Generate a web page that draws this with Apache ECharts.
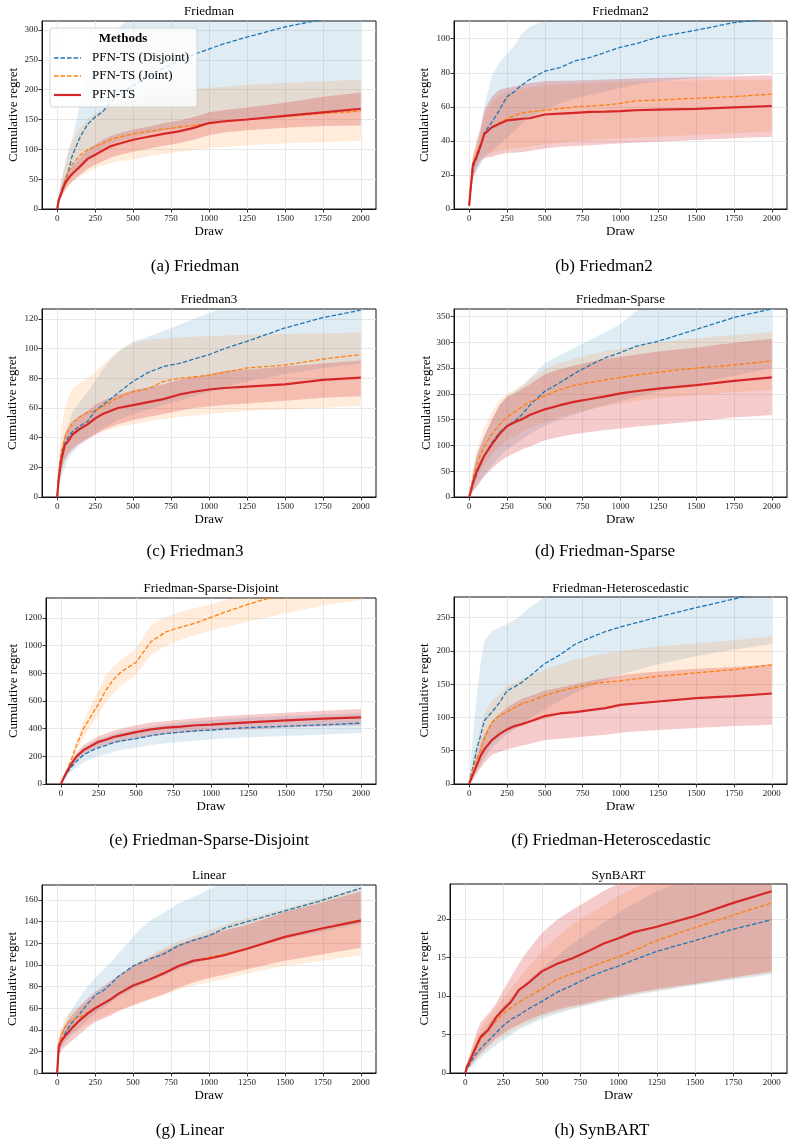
<!DOCTYPE html>
<html><head><meta charset="utf-8">
<script src="https://cdn.jsdelivr.net/npm/echarts@6/dist/echarts.min.js"></script>
<style>html,body{margin:0;padding:0;background:#fff}#c{width:794px;height:1146px}</style>
</head><body><div id="c"></div>
<script>
// ---------------- DATA ----------------
const draws = [0,10,25,50,75,100,150,200,250,300,350,400,500,600,700,800,900,1000,1100,1250,1500,1750,2000];
const xTicks = [0,250,500,750,1000,1250,1500,1750,2000];
const methods = ['PFN-TS (Disjoint)','PFN-TS (Joint)','PFN-TS'];
const panelTitles = ['Friedman','Friedman2','Friedman3','Friedman-Sparse','Friedman-Sparse-Disjoint','Friedman-Heteroscedastic','Linear','SynBART'];
const captions = ['(a) Friedman','(b) Friedman2','(c) Friedman3','(d) Friedman-Sparse','(e) Friedman-Sparse-Disjoint','(f) Friedman-Heteroscedastic','(g) Linear','(h) SynBART'];
const yTicks_a = [0,50,100,150,200,250,300];
const yTicks_b = [0,20,40,60,80,100];
const yTicks_c = [0,20,40,60,80,100,120];
const yTicks_d = [0,50,100,150,200,250,300,350];
const yTicks_e = [0,200,400,600,800,1000,1200];
const yTicks_f = [0,50,100,150,200,250];
const yTicks_g = [0,20,40,60,80,100,120,140,160];
const yTicks_h = [0,5,10,15,20];

// (a) Friedman
const a_dis    = [0,12,30,45,65,90,120,142,154,163,178,190,207,222,236,248,259,268,277,288,305,318,330];
const a_dis_lo = [0,10,20,35,48,58,72,85,95,102,108,113,120,126,131,135,139,143,146,150,155,160,165];
const a_dis_hi = [0,25,45,75,100,118,175,215,245,272,290,303,325,345,360,372,383,393,402,415,435,452,468];
const a_joint    = [0,15,28,45,62,75,90,99,105,110,116,120,126,130,134,137,140,143,146,150,155,160,164];
const a_joint_lo = [0,10,18,28,38,45,55,62,68,73,77,80,83,88,92,96,99,102,104,107,110,112,114];
const a_joint_hi = [0,22,45,70,95,115,135,150,160,167,173,178,185,190,194,197,200,203,205,208,211,214,217];
const a_pfn    = [0,15,25,42,52,59,71,84,91,98,105,109,116,121,126,130,136,144,147,150,156,162,168];
const a_pfn_lo = [0,10,18,32,40,47,57,68,74,80,86,90,96,101,106,110,116,124,128,132,136,139,140];
const a_pfn_hi = [0,20,34,54,64,72,86,100,108,116,122,126,133,138,144,148,154,162,166,170,178,188,195];

// (b) Friedman2
const b_dis    = [2,12,24,30,36,45,51,58,66,69,73,76,81,83,87,89,92,95,97,101,105,109.5,112];
const b_dis_lo = [1,8,18,22,26,30,34,38,42,46,50,54,58,62,65,67,69,71,73,75,77,78.5,80];
const b_dis_hi = [3,15,26,35,46,60,78,86,91,96,103,107,111,113,115,117,119,121,123,125,127,129,130];
const b_joint    = [2,12,27,33,38,44,48,50.5,53,55,56.5,57,58,59,60,60.5,61,62,63.5,64,65,66,67.5];
const b_joint_lo = [1,9,20,26,30,32,33,34,35,35.5,36,36.5,38,39,40,40.5,41,41.5,42,42.5,43.5,44.5,45.5];
const b_joint_hi = [3,15,30,38,45,55,63,67,68.5,69.5,70.5,71.5,72.5,73,73.5,74,74.3,74.6,74.9,75.2,75.5,75.8,76];
const b_pfn    = [2,12,26,31,37,44,48,50,52,52.5,53,53.3,55.5,56,56.5,57,57.2,57.5,58,58.3,58.8,59.7,60.5];
const b_pfn_lo = [0,8,18,24,28,30,30.5,32,33,33,33.5,34,35.5,36.5,37,37.5,38,38.5,39,39.5,40.5,41.5,42.5];
const b_pfn_hi = [4,16,32,40,48,58,66,70,71,72,73,74,75,75.3,75.5,75.8,76,76.3,76.6,77,77.5,78,78.5];

// (c) Friedman3
const c_dis    = [0,14,28,36,41,44,48,51,58,62,66,70,78,84,88,90,93,96,100,105,114,121,126];
const c_dis_lo = [0,5,12,20,26,30,35,39,43,46,49,52,56,59,62,65,68,71,74,78,83,87,90];
const c_dis_hi = [0,18,30,42,50,57,64,71,78,86,92,98,105,108,112,116,120,124,128,132,138,142,146];
const c_joint    = [0,15,30,40,45,50,54,57,58,61,64,67,71,73,78,80,81,82,84,87,89,93,96];
const c_joint_lo = [0,8,18,26,30,33,37,40,42,44,45.5,47,49,51,52.5,54,55,56,57,58,59,60,61.5];
const c_joint_hi = [0,22,45,60,68,73,77,80,84,89,94,98,104,106,107,107.5,108,108.5,109,109.5,110,110.5,111];
const c_pfn    = [0,12,24,35,38,42,46,49,53,56,58,60,62,64,66,69,71,72.5,73.5,74.5,76,79,80.5];
const c_pfn_lo = [0,8,17,25,29,32,36,39,42,45,47,49,52,54,56,58,60,61,62,63,65,67,68];
const c_pfn_hi = [0,16,30,43,47,51,55,58,62,65,67,69,72,74,76,79,81,83,85,86,88,90,92];

// (d) Friedman-Sparse
const d_dis    = [0,10,25,45,63,80,105,125,138,147,160,178,205,222,240,256,270,280,292,302,325,348,365];
const d_dis_lo = [0,5,12,22,32,42,60,78,92,102,112,122,138,150,160,170,178,186,194,204,220,235,250];
const d_dis_hi = [0,15,45,80,100,118,150,178,195,205,215,230,260,275,290,305,320,335,360,380,400,420,440];
const d_joint    = [0,14,35,62,82,98,122,140,155,165,175,184,196,208,217,222,227,232,236,242,250,256,264];
const d_joint_lo = [0,6,18,35,50,62,82,98,110,118,126,133,145,155,163,170,176,181,186,192,198,203,208];
const d_joint_hi = [0,22,55,90,115,135,165,188,200,208,217,228,248,260,268,276,283,288,293,300,308,314,320];
const d_pfn    = [0,10,27,50,65,80,102,122,137,145,151,159,170,178,185,190,195,201,205,210,217,225,232];
const d_pfn_lo = [0,4,10,20,30,40,55,68,78,85,92,98,110,117,122,126,130,133,136,140,147,154,159];
const d_pfn_hi = [0,16,45,80,100,118,150,178,195,200,210,218,238,248,255,262,268,272,276,282,290,299,307];

// (e) Friedman-Sparse-Disjoint
const e_dis    = [0,22,52,95,130,160,210,240,262,280,300,312,328,350,365,375,385,390,398,408,418,428,440];
const e_dis_lo = [0,15,38,70,95,118,155,180,200,215,232,245,262,282,295,305,315,322,330,338,348,358,368];
const e_dis_hi = [0,28,65,118,162,200,262,298,322,342,362,378,395,415,432,443,454,462,470,480,492,503,512];
const e_joint    = [0,25,65,125,195,270,400,490,580,680,755,810,880,1030,1100,1135,1165,1205,1245,1300,1380,1450,1510];
const e_joint_lo = [0,20,55,110,170,235,340,420,500,590,660,710,790,935,1000,1045,1080,1110,1135,1175,1235,1290,1330];
const e_joint_hi = [0,30,75,140,220,305,460,570,680,790,850,900,980,1150,1210,1245,1275,1300,1330,1370,1450,1520,1580];
const e_pfn    = [0,25,60,110,155,195,245,275,305,320,340,352,375,395,408,415,425,430,436,446,460,473,482];
const e_pfn_lo = [0,20,48,90,130,165,210,240,265,280,295,305,325,345,360,368,378,385,390,395,408,418,425];
const e_pfn_hi = [0,30,72,130,180,225,280,315,345,365,385,400,425,445,455,465,475,485,492,500,515,530,542];

// (f) Friedman-Heteroscedastic
const f_dis    = [0,12,25,52,72,95,108,122,140,146,153,162,181,194,210,220,229,236,242,251,265,278,292];
const f_dis_lo = [0,4,10,18,28,38,55,65,75,82,90,98,112,125,137,147,156,164,171,180,192,202,210];
const f_dis_hi = [0,35,70,130,180,215,230,235,240,246,255,265,282,295,305,315,325,335,343,355,370,385,400];
const f_joint    = [0,10,22,37,50,68,92,103,108,115,121,124,133,140,145,150,153,155,158,162,167,172,179];
const f_joint_lo = [0,5,12,22,32,45,62,72,78,83,88,92,98,104,108,112,115,118,121,125,130,134,138];
const f_joint_hi = [0,15,35,60,85,105,125,135,146,152,158,162,172,180,187,192,196,199,203,207,211,216,222];
const f_pfn    = [0,6,14,28,42,52,66,75,82,87,90,94,102,106,108,111,114,119,121,124,129,132,136];
const f_pfn_lo = [0,2,6,15,24,32,44,48,52,55,58,60,66,68,70,72,74,77,79,81,84,87,89];
const f_pfn_hi = [0,10,22,42,60,75,95,105,115,122,128,132,140,145,150,155,159,163,166,169,173,176,180];

// (g) Linear
const g_dis    = [0,22,29,36,42,47,55,64,72,76,82,89,99,105,110,118,123,127,134,140,150,160,171];
const g_dis_lo = [0,16,22,28,32,36,42,49,55,60,65,70,78,84,90,96,101,105,110,116,124,131,138];
const g_dis_hi = [0,28,36,46,54,60,70,80,88,95,102,110,126,140,148,157,163,170,176,183,195,205,215];
const g_joint    = [0,28,33,42,47,49,52,56,60,64,68,73,81,86,93,99,104,107,110,115,126,134,142];
const g_joint_lo = [0,18,24,30,34,37,41,45,49,52,55,58,62,67,72,77,81,84,87,92,99,104,109];
const g_joint_hi = [0,34,42,50,55,58,62,66,70,76,82,88,100,108,116,122,127,132,137,143,152,162,172];
const g_pfn    = [0,24,29,34,38,42,49,55,60,64,68,73,81,86,92,99,104,106,109,115,126,134,141];
const g_pfn_lo = [0,16,20,24,27,30,36,42,47,50,53,57,63,68,73,79,84,88,91,96,104,110,116];
const g_pfn_hi = [0,30,38,44,49,54,62,69,75,80,85,90,99,106,113,119,124,128,132,137,149,158,168];

// (h) SynBART
const h_dis    = [0,0.5,1.0,1.9,2.6,3.2,4.2,5.2,6.2,7.0,7.5,8.2,9.3,10.5,11.4,12.4,13.2,13.9,14.7,15.8,17.2,18.7,19.9];
const h_dis_lo = [0,0.3,0.5,1.0,1.5,2.0,2.8,3.6,4.3,5.0,5.6,6.1,7.0,7.7,8.3,8.8,9.3,9.7,10.1,10.6,11.4,12.1,12.8];
const h_dis_hi = [0,0.9,1.7,3.0,4.2,5.0,6.4,7.6,8.8,9.8,10.9,11.9,13.6,15.2,16.8,18.2,19.5,20.8,22.0,23.6,25.5,27.0,28.2];
const h_joint    = [0,0.7,1.3,2.4,3.5,4.4,5.6,6.7,7.8,8.5,9.2,9.8,10.9,12.2,12.9,13.6,14.4,15.1,15.9,17.2,18.9,20.5,22.1];
const h_joint_lo = [0,0.3,0.6,1.2,1.8,2.3,3.2,4.1,4.8,5.4,5.9,6.4,7.3,7.9,8.4,8.9,9.4,9.8,10.2,10.7,11.5,12.3,13.0];
const h_joint_hi = [0,1.1,2.0,3.5,4.8,5.8,7.2,8.5,9.8,11.0,12.3,13.5,15.8,17.7,19.3,20.6,21.8,23.0,24.0,25.3,27.2,29.0,30.8];
const h_pfn    = [0,0.8,1.4,2.5,3.6,4.7,5.6,7.2,8.3,9.3,10.8,11.5,13.2,14.2,14.9,15.8,16.8,17.5,18.3,19.0,20.4,22.1,23.6];
const h_pfn_lo = [0,0.4,0.8,1.4,2.0,2.6,3.6,4.5,5.2,5.8,6.3,6.8,7.6,8.2,8.7,9.1,9.6,10.0,10.4,10.9,11.6,12.4,13.2];
const h_pfn_hi = [0,1.2,2.2,3.8,5.4,6.6,7.7,9.0,10.8,12.5,14.2,15.7,18.2,19.9,21.2,22.4,23.6,24.6,25.5,26.8,28.5,30,31.5];

// ---------------- LAYOUT / STYLE ----------------
const panels = [
  {yTicks:yTicks_a, s:[[a_dis,a_dis_lo,a_dis_hi],[a_joint,a_joint_lo,a_joint_hi],[a_pfn,a_pfn_lo,a_pfn_hi]]},
  {yTicks:yTicks_b, s:[[b_dis,b_dis_lo,b_dis_hi],[b_joint,b_joint_lo,b_joint_hi],[b_pfn,b_pfn_lo,b_pfn_hi]]},
  {yTicks:yTicks_c, s:[[c_dis,c_dis_lo,c_dis_hi],[c_joint,c_joint_lo,c_joint_hi],[c_pfn,c_pfn_lo,c_pfn_hi]]},
  {yTicks:yTicks_d, s:[[d_dis,d_dis_lo,d_dis_hi],[d_joint,d_joint_lo,d_joint_hi],[d_pfn,d_pfn_lo,d_pfn_hi]]},
  {yTicks:yTicks_e, s:[[e_dis,e_dis_lo,e_dis_hi],[e_joint,e_joint_lo,e_joint_hi],[e_pfn,e_pfn_lo,e_pfn_hi]]},
  {yTicks:yTicks_f, s:[[f_dis,f_dis_lo,f_dis_hi],[f_joint,f_joint_lo,f_joint_hi],[f_pfn,f_pfn_lo,f_pfn_hi]]},
  {yTicks:yTicks_g, s:[[g_dis,g_dis_lo,g_dis_hi],[g_joint,g_joint_lo,g_joint_hi],[g_pfn,g_pfn_lo,g_pfn_hi]]},
  {yTicks:yTicks_h, s:[[h_dis,h_dis_lo,h_dis_hi],[h_joint,h_joint_lo,h_joint_hi],[h_pfn,h_pfn_lo,h_pfn_hi]]}
];
const layouts = [
  {left:42, top:21, width:334, height:188, ymax:315, yGap:22, titleY:12, cap:[195,267]},
  {left:454,top:21, width:333, height:188, ymax:110.4, yGap:23, titleY:12, cap:[604,267]},
  {left:42, top:309,width:334, height:188, ymax:126.8, yGap:22.5, titleY:300, cap:[195,552]},
  {left:454,top:309,width:333, height:188, ymax:364.5, yGap:21, titleY:300, cap:[605,552]},
  {left:46, top:598,width:330, height:186, ymax:1345, yGap:26, titleY:589, cap:[209,841]},
  {left:454,top:597,width:333, height:187, ymax:281, yGap:22.5, titleY:589, cap:[611,841]},
  {left:42, top:885,width:334, height:188, ymax:174, yGap:22.5, titleY:876, cap:[190,1131]},
  {left:450,top:884,width:337, height:189, ymax:24.55, yGap:19, titleY:876, cap:[602,1131]}
];
const COLORS = ['#1f77b4','#ff7f0e','#d62728'];
const BANDS = ['rgba(31,119,180,0.14)','rgba(255,127,14,0.15)','rgba(214,39,40,0.24)'];
const FONT = '"Liberation Serif", "DejaVu Serif", serif';
const plain = v => String(v);

const grid=[], xAxis=[], yAxis=[], series=[], graphic=[];
panels.forEach((p,i)=>{
  const L = layouts[i];
  grid.push({left:L.left, top:L.top, width:L.width, height:L.height, show:true, borderColor:'#111', borderWidth:1, backgroundColor:'transparent'});
  xAxis.push({gridIndex:i, type:'value', min:-100, max:2100,
    name:'Draw', nameLocation:'middle', nameGap:16.5,
    nameTextStyle:{fontFamily:FONT, fontSize:13, color:'#000'},
    axisLine:{show:true, onZero:false, lineStyle:{color:'#111', width:1}},
    axisTick:{show:true, length:3.5, customValues:xTicks, lineStyle:{color:'#222', width:0.9}},
    axisLabel:{customValues:xTicks, formatter:plain, fontFamily:FONT, fontSize:9, color:'#222', margin:5},
    splitLine:{show:true, lineStyle:{color:'#e3e3e3', width:0.8}}
  });
  yAxis.push({gridIndex:i, type:'value', min:0, max:L.ymax,
    name:'Cumulative regret', nameLocation:'middle', nameGap:L.yGap,
    nameTextStyle:{fontFamily:FONT, fontSize:13, color:'#000'},
    axisLine:{show:true, onZero:false, lineStyle:{color:'#111', width:1}},
    axisTick:{show:true, length:3.5, customValues:p.yTicks, lineStyle:{color:'#222', width:0.9}},
    axisLabel:{customValues:p.yTicks, formatter:plain, fontFamily:FONT, fontSize:9, color:'#222', margin:4},
    splitLine:{show:true, lineStyle:{color:'#e3e3e3', width:0.8}}
  });
  // bands (polygon between lo and hi, via the axes' scales)
  p.s.forEach((trip,j)=>{
    const lo = trip[1], hi = trip[2];
    series.push({type:'custom', xAxisIndex:i, yAxisIndex:i, silent:true, z:1,
      data:[[1000, 0]], encode:{x:0, y:1},
      renderItem:(params, api)=>{
        const pts = [];
        for (let k=0;k<draws.length;k++) pts.push(api.coord([draws[k], hi[k]]));
        for (let k=draws.length-1;k>=0;k--) pts.push(api.coord([draws[k], lo[k]]));
        const cs = params.coordSys;
        return {type:'polygon', shape:{points:pts}, style:{fill:BANDS[j], stroke:null},
          clipPath:{type:'rect', shape:{x:cs.x, y:cs.y, width:cs.width, height:cs.height}}};
      }});
  });
  // mean lines
  p.s.forEach((trip,j)=>{
    const m = trip[0];
    series.push({type:'line', name:methods[j], xAxisIndex:i, yAxisIndex:i, symbol:'none', silent:true, z:3,
      lineStyle: j<2 ? {color:COLORS[j], width:1.3, type:[4.5,2]} : {color:COLORS[j], width:2.2, type:'solid'},
      data: draws.map((x,k)=>[x, m[k]])});
  });
  graphic.push({type:'text', x:L.left+L.width/2, y:L.titleY, z:50,
    style:{text:panelTitles[i], fontFamily:FONT, fontSize:13, fill:'#000', align:'center', verticalAlign:'middle'}});
  graphic.push({type:'text', x:L.cap[0], y:L.cap[1], z:50,
    style:{text:captions[i], fontFamily:FONT, fontSize:17, fill:'#000', align:'center', verticalAlign:'middle'}});
});

// legend in panel (a)
graphic.push({type:'rect', z:100, shape:{x:50, y:28, width:147, height:79, r:3},
  style:{fill:'rgba(255,255,255,0.8)', stroke:'#cccccc', lineWidth:0.8}});
graphic.push({type:'text', z:101, x:123, y:39,
  style:{text:'Methods', fontFamily:FONT, fontSize:13, fontWeight:'bold', fill:'#000', align:'center', verticalAlign:'middle'}});
methods.forEach((m,j)=>{
  const yy = [58,76,95][j];
  graphic.push({type:'line', z:101, shape:{x1:54, y1:yy, x2:81, y2:yy},
    style: j<2 ? {stroke:COLORS[j], lineWidth:1.3, lineDash:[4.5,2]} : {stroke:COLORS[j], lineWidth:2.2}});
  graphic.push({type:'text', z:101, x:92, y:yy,
    style:{text:m, fontFamily:FONT, fontSize:13, fill:'#000', align:'left', verticalAlign:'middle'}});
});

const chart = echarts.init(document.getElementById('c'), null, {renderer:'canvas'});
chart.setOption({animation:false, backgroundColor:'#fff', grid, xAxis, yAxis, series, graphic});
</script></body></html>
